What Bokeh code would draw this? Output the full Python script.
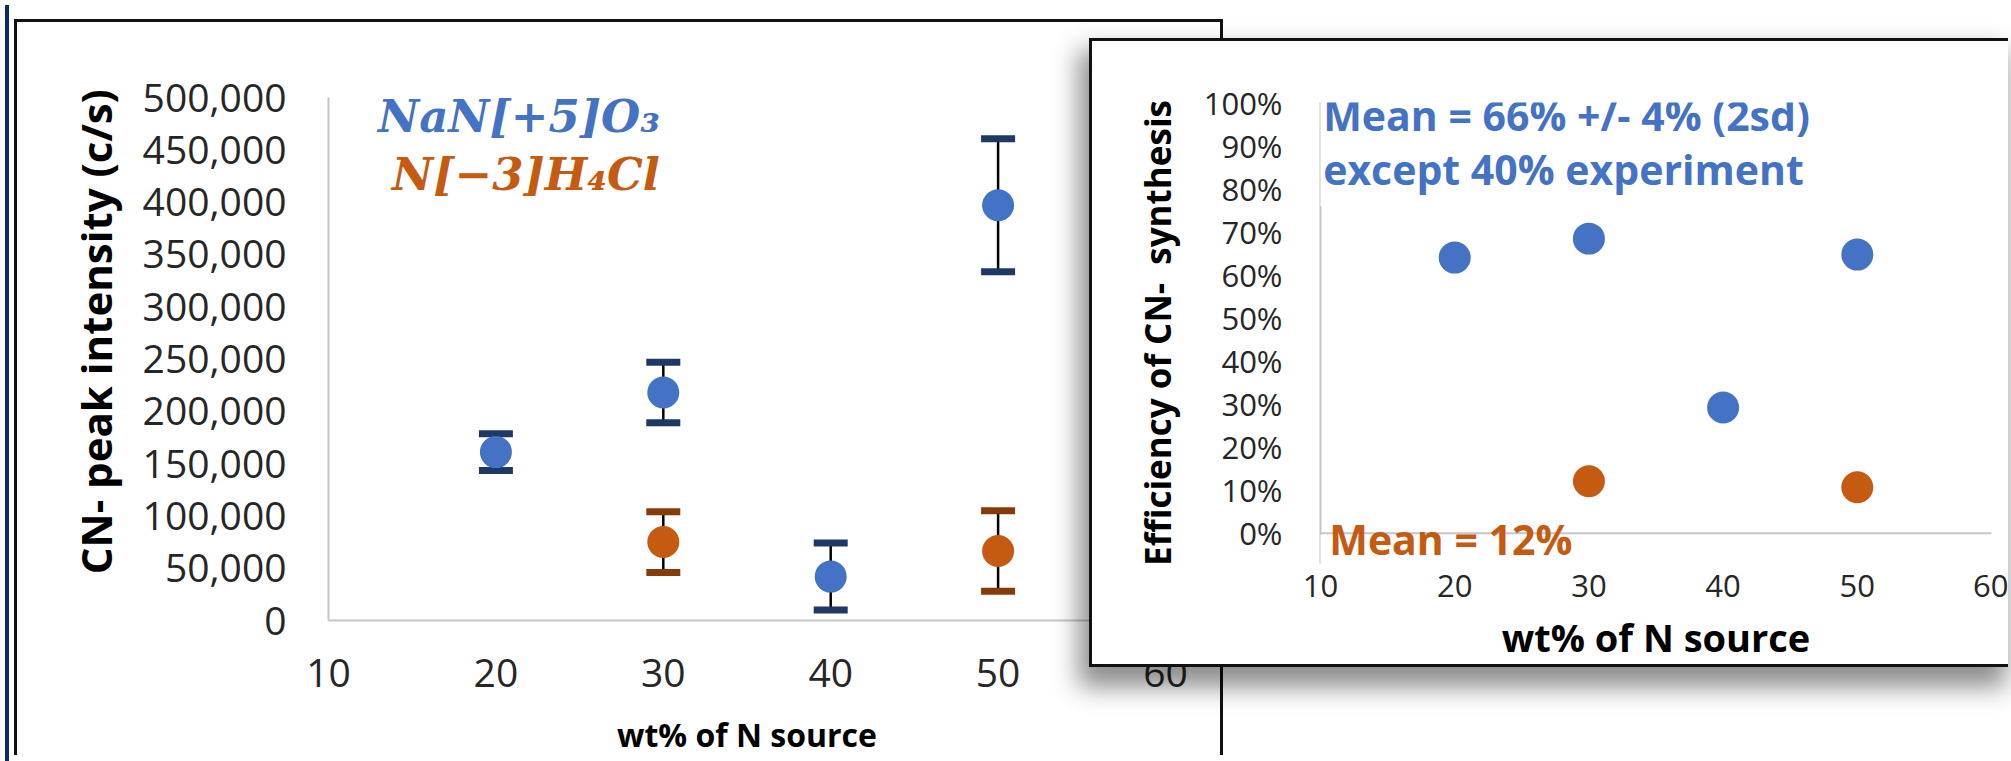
import math
from bokeh.plotting import figure
from bokeh.models import (ColumnDataSource, Whisker, TeeHead, Label, NumeralTickFormatter,
                          Range1d, BoxAnnotation, Div, Span)
from bokeh.embed import file_html
from bokeh.resources import INLINE

# ---------------- data ----------------
x_ticks = [10, 20, 30, 40, 50, 60]
left_y_ticks = [0, 50000, 100000, 150000, 200000, 250000, 300000, 350000, 400000, 450000, 500000]
right_y_ticks = [0.0, 0.1, 0.2, 0.3, 0.4, 0.5, 0.6, 0.7, 0.8, 0.9, 1.0]

# left chart: CN- peak intensity (c/s)
nano3_wt = [20, 30, 40, 50]
nano3_int = [161000, 218000, 42000, 397000]
nano3_err = [17500, 29000, 32000, 63500]
nh4cl_wt = [30, 50]
nh4cl_int = [75000, 66500]
nh4cl_err = [29000, 38500]

# right chart: efficiency of CN- synthesis
eff_nano3_wt = [20, 30, 40, 50]
eff_nano3 = [0.640, 0.684, 0.292, 0.647]
eff_nh4cl_wt = [30, 50]
eff_nh4cl = [0.121, 0.107]

BLUE = "#4472C4"
ORANGE = "#C55A11"
NAVY = "#203864"
BROWN = "#843C0C"
AXIS_GRAY = "#C6C6C6"
TICK_COLOR = "#262626"
NBSP = "\u00a0"


def style_axes(p, size):
    p.outline_line_color = None
    p.grid.visible = False
    for ax in (p.xaxis[0], p.yaxis[0]):
        ax.axis_line_color = AXIS_GRAY
        ax.axis_line_width = 2
        ax.major_tick_line_color = None
        ax.minor_tick_line_color = None
        ax.major_tick_out = 0
        ax.major_tick_in = 0
        ax.minor_tick_out = 0
        ax.minor_tick_in = 0
        ax.major_label_text_font = "Open Sans"
        ax.major_label_text_font_size = size
        ax.major_label_text_color = TICK_COLOR
        ax.axis_label_text_color = "black"
        ax.axis_label_text_font = "Open Sans"
        ax.axis_label_text_font_style = "bold"


# ---------------- left chart ----------------
pL = figure(width=1209, height=736, x_range=Range1d(10, 60), y_range=Range1d(0, 500000),
            output_backend="svg", toolbar_location=None,
            min_border_left=311, min_border_right=61, min_border_top=75, min_border_bottom=138,
            styles={"position": "absolute", "left": "14px", "top": "19px",
                    "border": "3px solid #111111", "border-bottom": "none",
                    "background-color": "white"})
style_axes(pL, "39px")
pL.xaxis.ticker = x_ticks
pL.yaxis.ticker = left_y_ticks
pL.yaxis.formatter = NumeralTickFormatter(format="0,0")
pL.yaxis.major_label_standoff = 42
pL.xaxis.major_label_standoff = 38
pL.xaxis.axis_label = "wt% of N source"
pL.xaxis.axis_label_text_font_size = "32px"
pL.xaxis.axis_label_standoff = 23
pL.yaxis.axis_label = NBSP * 5 + "CN- peak intensity (c/s)"
pL.yaxis.axis_label_text_font_size = "42px"
pL.yaxis.axis_label_standoff = 16

srcA = ColumnDataSource(dict(x=nano3_wt, y=nano3_int,
                             upper=[v + e for v, e in zip(nano3_int, nano3_err)],
                             lower=[v - e for v, e in zip(nano3_int, nano3_err)]))
srcB = ColumnDataSource(dict(x=nh4cl_wt, y=nh4cl_int,
                             upper=[v + e for v, e in zip(nh4cl_int, nh4cl_err)],
                             lower=[v - e for v, e in zip(nh4cl_int, nh4cl_err)]))

for src, cap in ((srcA, NAVY), (srcB, BROWN)):
    w = Whisker(base="x", upper="upper", lower="lower", source=src, dimension="height",
                level="underlay", line_color="black", line_width=2.5,
                upper_head=TeeHead(size=34, line_color=cap, line_width=7),
                lower_head=TeeHead(size=34, line_color=cap, line_width=7))
    pL.add_layout(w)

pL.scatter("x", "y", source=srcA, size=32, fill_color=BLUE, line_color=None)
pL.scatter("x", "y", source=srcB, size=32, fill_color=ORANGE, line_color=None)

pL.add_layout(Label(x=29.8, y=481500, text="NaN[+5]O\u2083", text_align="right",
                    text_baseline="middle", text_font="DejaVu Serif",
                    text_font_style="bold italic", text_font_size="45px", text_color=BLUE))
pL.add_layout(Label(x=29.8, y=426000, text="N[\u22123]H\u2084Cl", text_align="right",
                    text_baseline="middle", text_font="DejaVu Serif",
                    text_font_style="bold italic", text_font_size="45px", text_color=ORANGE))

# ---------------- right (inset) chart ----------------
pR = figure(width=919, height=629, x_range=Range1d(10, 60), y_range=Range1d(-0.07, 1.0),
            output_backend="svg", toolbar_location=None,
            min_border_left=228, min_border_right=20, min_border_top=61, min_border_bottom=107,
            styles={"position": "absolute", "left": "1089px", "top": "38px",
                    "border": "3px solid #111111", "border-right": "none",
                    "background-color": "white",
                    "box-shadow": "-6px 16px 24px 4px rgba(0,0,0,0.45)"})
style_axes(pR, "31px")
pR.xaxis.ticker = x_ticks
pR.yaxis.ticker = right_y_ticks
pR.yaxis.formatter = NumeralTickFormatter(format="0%")
pR.xaxis.axis_line_color = None
pR.yaxis.major_label_standoff = 38
pR.xaxis.major_label_standoff = 11
pR.xaxis.axis_label = "wt% of N source"
pR.xaxis.axis_label_text_font_size = "38px"
pR.xaxis.axis_label_standoff = 11
pR.yaxis.axis_label = "Efficiency of CN-" + NBSP + " synthesis"
pR.yaxis.axis_label_text_font_size = "35px"
pR.yaxis.axis_label_standoff = 20

# x axis line drawn at 0 %
pR.add_layout(Span(location=0, dimension="width", line_color=AXIS_GRAY, line_width=2))
# white text box behind the blue note, and blank area under the 0 % line
pR.add_layout(BoxAnnotation(left=9.6, right=45, bottom=0.76, top=1.0, fill_color="white",
                            fill_alpha=1.0, line_color=None))
pR.add_layout(BoxAnnotation(left=9.6, right=10.5, bottom=-0.07, top=-0.003, fill_color="white",
                            fill_alpha=1.0, line_color=None))

pR.scatter(eff_nano3_wt, eff_nano3, size=32, fill_color=BLUE, line_color=None)
pR.scatter(eff_nh4cl_wt, eff_nh4cl, size=32, fill_color=ORANGE, line_color=None)

pR.add_layout(Label(x=10.2, y=0.970, text="Mean = 66% +/- 4% (2sd)", text_align="left",
                    text_baseline="middle", text_font="Open Sans", text_font_style="bold",
                    text_font_size="41px", text_color=BLUE))
pR.add_layout(Label(x=10.2, y=0.845, text="except 40% experiment", text_align="left",
                    text_baseline="middle", text_font="Open Sans", text_font_style="bold",
                    text_font_size="41px", text_color=BLUE))
pR.add_layout(Label(x=10.65, y=-0.012, text="Mean = 12%", text_align="left",
                    text_baseline="middle", text_font="Open Sans", text_font_style="bold",
                    text_font_size="41px", text_color=ORANGE))

bar = Div(text="", width=4, height=761,
          styles={"position": "absolute", "left": "0px", "top": "0px",
                  "background-color": "#0C2A6A"})

open("out.html", "w").write(file_html([bar, pL, pR], INLINE))
